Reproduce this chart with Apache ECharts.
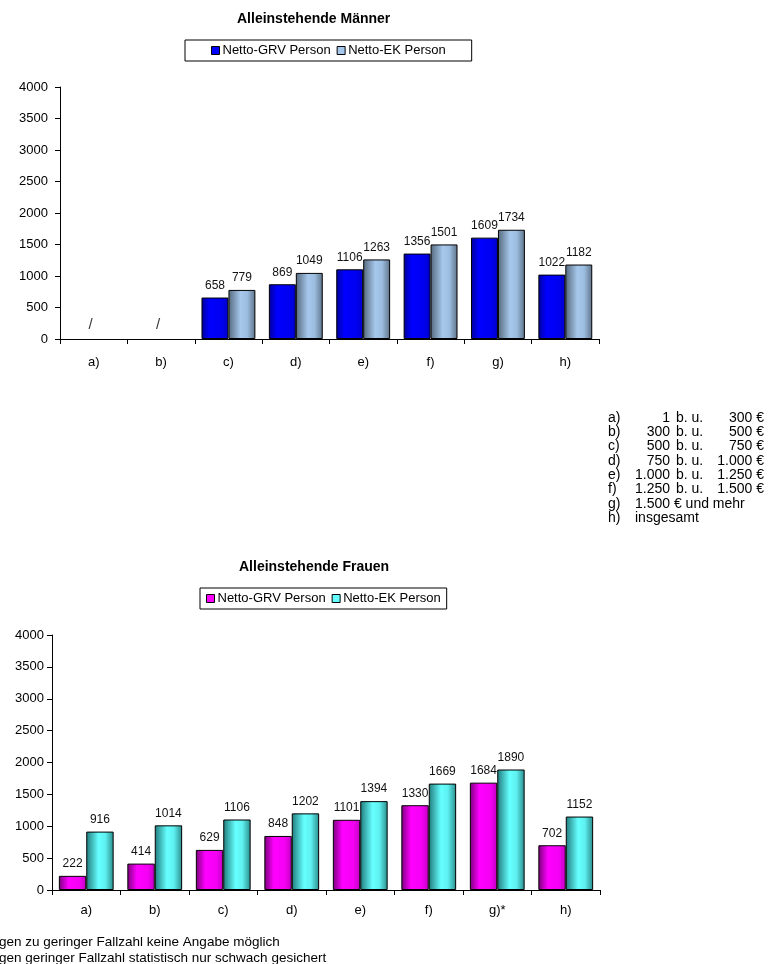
<!DOCTYPE html>
<html>
<head>
<meta charset="utf-8">
<script src="https://cdn.jsdelivr.net/npm/echarts@6/dist/echarts.min.js"></script>
<style>
html,body{margin:0;padding:0;background:#fff;}
#c{width:768px;height:964px;}
</style>
</head>
<body>
<div id="c"></div>
<script>
// ---- data ----
const categoriesMen = ['a)', 'b)', 'c)', 'd)', 'e)', 'f)', 'g)', 'h)'];
const categoriesWomen = ['a)', 'b)', 'c)', 'd)', 'e)', 'f)', 'g)*', 'h)'];
const menGRV = [null, null, 658, 869, 1106, 1356, 1609, 1022];
const menEK = [null, null, 779, 1049, 1263, 1501, 1734, 1182];
const menMissing = [0, 1]; // category indices shown as "/"
const womenGRV = [222, 414, 629, 848, 1101, 1330, 1684, 702];
const womenEK = [916, 1014, 1106, 1202, 1394, 1669, 1890, 1152];
const yTicks = { min: 0, max: 4000, interval: 500 };
const seriesNames = ['Netto-GRV Person', 'Netto-EK Person'];
const titleMen = 'Alleinstehende Männer';
const titleWomen = 'Alleinstehende Frauen';
const keyRows = [
  ['a)', '1', 'b. u.', '300 €'],
  ['b)', '300', 'b. u.', '500 €'],
  ['c)', '500', 'b. u.', '750 €'],
  ['d)', '750', 'b. u.', '1.000 €'],
  ['e)', '1.000', 'b. u.', '1.250 €'],
  ['f)', '1.250', 'b. u.', '1.500 €'],
  ['g)', '1.500 € und mehr'],
  ['h)', 'insgesamt']
];
const footnotes = [
  'gen zu geringer Fallzahl keine Angabe möglich',
  'gen geringer Fallzahl statistisch nur schwach gesichert'
];

// ---- styles ----
const FONT = 'Liberation Sans, Arial, sans-serif';
function grad(stops) {
  return { type: 'linear', x: 0, y: 0, x2: 1, y2: 0,
    colorStops: stops.map(s => ({ offset: s[0], color: s[1] })) };
}
const colBlue = grad([[0, '#00009a'], [0.3, '#0000ff'], [0.75, '#0000f0'], [1, '#0000c8']]);
const colLight = grad([[0, '#55687c'], [0.45, '#a6c8ec'], [0.7, '#9cbde0'], [1, '#5e7288']]);
const colMag = grad([[0, '#7a007a'], [0.35, '#ff00ff'], [0.75, '#f400f4'], [1, '#c000c0']]);
const colCyan = grad([[0, '#1f7a7a'], [0.45, '#66ffff'], [0.7, '#5ef0f0'], [1, '#2a8a8a']]);

const grids = [
  { left: 60, right: 169, top: 87, height: 252 },
  { left: 52, right: 168, top: 635, height: 255 }
];

function yAxis(gi, margin) {
  return {
    type: 'value', gridIndex: gi, min: yTicks.min, max: yTicks.max, interval: yTicks.interval,
    axisLine: { show: true, lineStyle: { color: '#000', width: 1 } },
    axisTick: { show: true, length: 5, lineStyle: { color: '#000' } },
    splitLine: { show: false },
    axisLabel: { color: '#000', fontSize: 13, fontFamily: FONT, margin: margin,
      formatter: v => String(v) }
  };
}
function xAxis(gi, cats, margin) {
  return {
    type: 'category', gridIndex: gi, data: cats,
    axisLine: { show: true, lineStyle: { color: '#000', width: 1 } },
    axisTick: { show: true, length: 5, inside: false, lineStyle: { color: '#000' } },
    axisLabel: { color: '#000', fontSize: 13, fontFamily: FONT, margin: margin }
  };
}
function barSeries(name, data, color, xi) {
  return {
    type: 'bar', name: name, data: data, xAxisIndex: xi, yAxisIndex: xi,
    barGap: '0%', barCategoryGap: '20%',
    itemStyle: { color: color, borderColor: '#000', borderWidth: 1 },
    label: { show: true, position: 'top', distance: 6, color: '#111', fontSize: 12, fontFamily: FONT },
    emphasis: { disabled: true },
    animation: false
  };
}
function legend(top, left, c1, c2, pad) {
  return {
    top: top, left: left, orient: 'horizontal',
    borderColor: '#000', borderWidth: 1, padding: pad,
    itemWidth: 8, itemHeight: 8, itemGap: 6, icon: 'rect',
    textStyle: { color: '#000', fontSize: 13, fontFamily: FONT, padding: [0, 0, 0, -2] },
    data: [
      { name: seriesNames[0], itemStyle: { color: c1, borderColor: '#000', borderWidth: 1 } },
      { name: seriesNames[1], itemStyle: { color: c2, borderColor: '#000', borderWidth: 1 } }
    ]
  };
}

const chart = echarts.init(document.getElementById('c'), null, { renderer: 'canvas' });

const keyGraphics = [];
keyRows.forEach((r, i) => {
  const y = 418 + i * 14.3;
  const st = { fontSize: 14, fontFamily: FONT, fill: '#000', textVerticalAlign: 'middle' };
  keyGraphics.push({ type: 'text', x: 608, y: y, style: Object.assign({ text: r[0], textAlign: 'left' }, st) });
  if (r.length === 4) {
    keyGraphics.push({ type: 'text', x: 670, y: y, style: Object.assign({ text: r[1], textAlign: 'right' }, st) });
    keyGraphics.push({ type: 'text', x: 676, y: y, style: Object.assign({ text: r[2], textAlign: 'left' }, st) });
    keyGraphics.push({ type: 'text', x: 764, y: y, style: Object.assign({ text: r[3], textAlign: 'right' }, st) });
  } else {
    keyGraphics.push({ type: 'text', x: 635, y: y, style: Object.assign({ text: r[1], textAlign: 'left' }, st) });
  }
});
footnotes.forEach((t, i) => {
  keyGraphics.push({ type: 'text', x: -1, y: 942 + i * 16,
    style: { text: t, fontSize: 13.5, fontFamily: FONT, fill: '#000', textAlign: 'left', textVerticalAlign: 'middle' } });
});

chart.setOption({
  animation: false,
  backgroundColor: '#fff',
  title: [
    { text: titleMen, left: 232, top: 7,
      textStyle: { fontSize: 14, fontWeight: 'bold', fontFamily: FONT, color: '#000' } },
    { text: titleWomen, left: 234, top: 555,
      textStyle: { fontSize: 14, fontWeight: 'bold', fontFamily: FONT, color: '#000' } }
  ],
  legend: [
    legend(40, 185, '#0000ff', '#a6c8ec', [4, 26, 4, 26]),
    legend(588, 200, '#ff00ff', '#66ffff', [4, 6, 4, 6])
  ],
  grid: grids,
  xAxis: [xAxis(0, categoriesMen, 17), xAxis(1, categoriesWomen, 14)],
  yAxis: [yAxis(0, 12), yAxis(1, 8)],
  graphic: keyGraphics,
  series: [
    barSeries(seriesNames[0], menGRV, colBlue, 0),
    barSeries(seriesNames[1], menEK, colLight, 0),
    {
      type: 'scatter', name: 'fehlend', xAxisIndex: 0, yAxisIndex: 0,
      data: menMissing.map(i => [i, 0]),
      symbol: 'circle', symbolSize: 1, itemStyle: { color: 'rgba(0,0,0,0)' },
      label: { show: true, position: 'top', distance: 6, offset: [-3, 0], formatter: '/', color: '#000', fontSize: 15, fontFamily: FONT },
      silent: true, animation: false
    },
    barSeries(seriesNames[0], womenGRV, colMag, 1),
    barSeries(seriesNames[1], womenEK, colCyan, 1)
  ]
});
</script>
</body>
</html>
